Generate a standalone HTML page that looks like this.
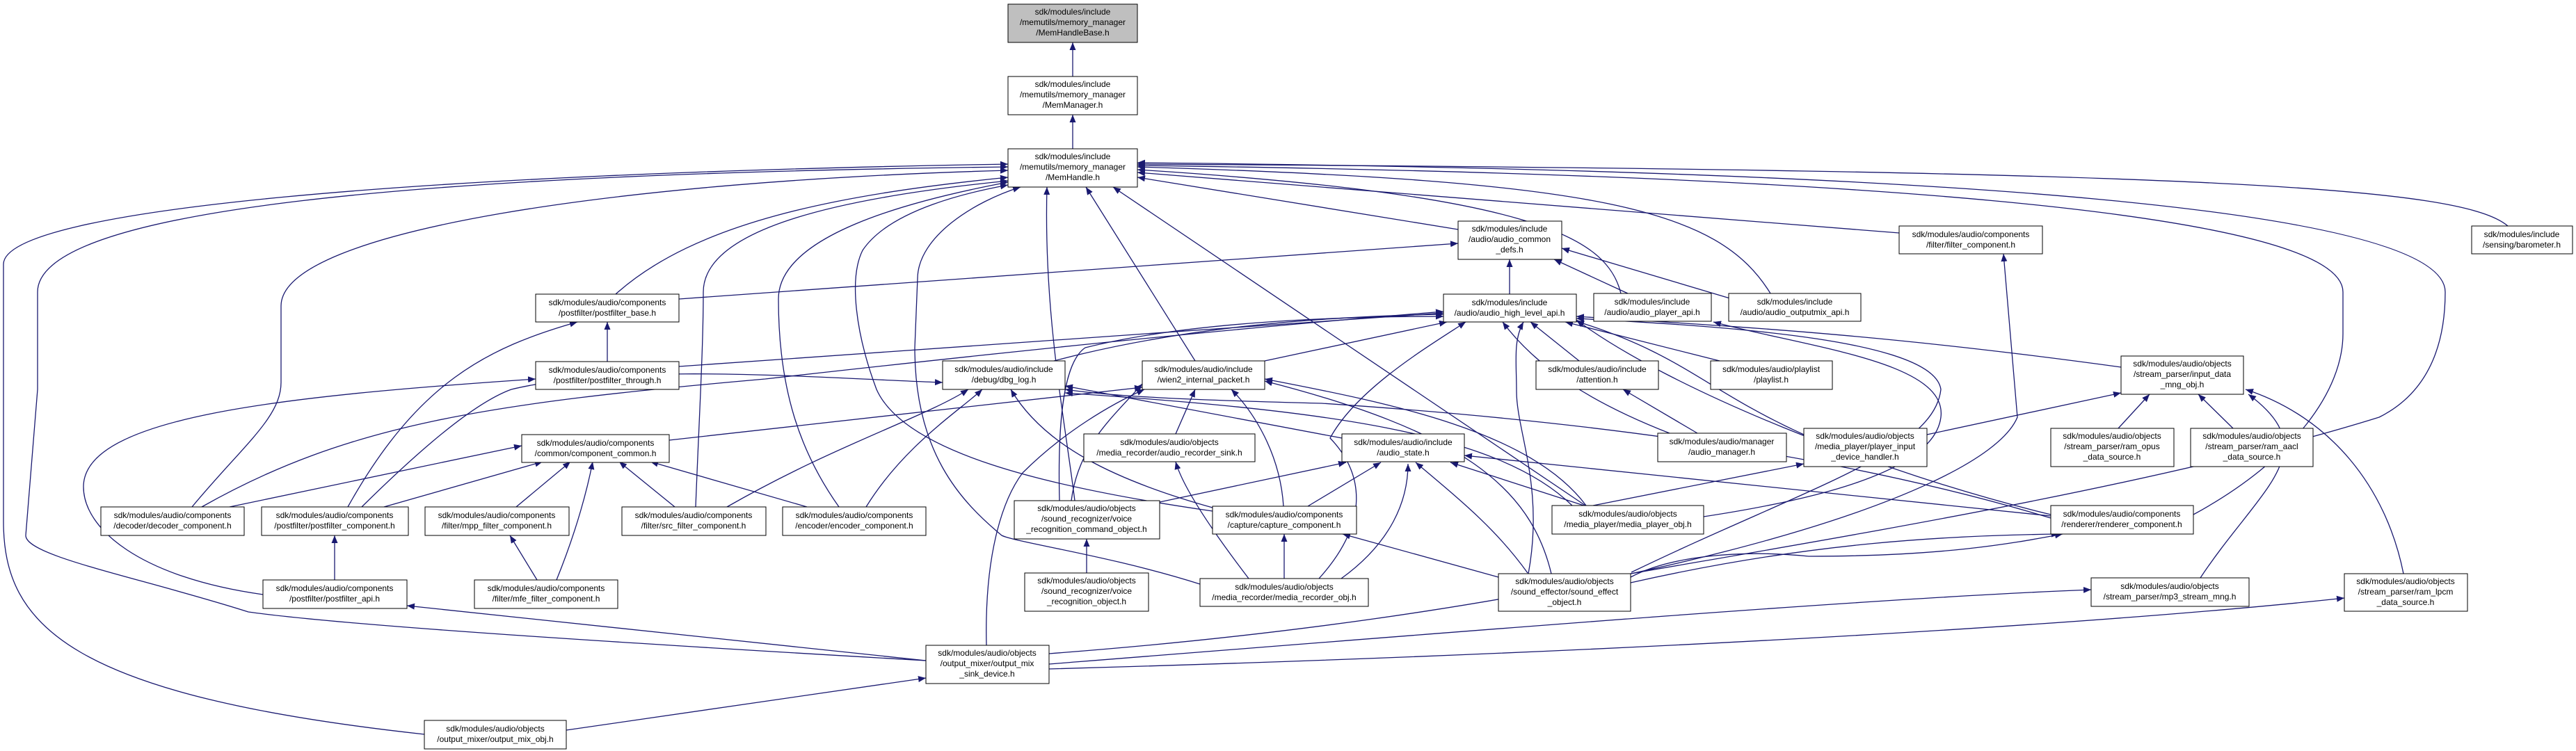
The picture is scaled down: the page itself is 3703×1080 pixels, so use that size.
<!DOCTYPE html>
<html><head><meta charset="utf-8"><style>
html,body{margin:0;padding:0;background:#fff;}
svg{display:block;}
text{font-family:"Liberation Sans",sans-serif;font-size:12px;fill:#000;}
.n{fill:#fff;stroke:#000;stroke-width:1;}
.e{fill:none;stroke:#191970;stroke-width:1.3;}
</style></head><body>
<svg width="3703" height="1080" viewBox="0 0 3703 1080" xmlns="http://www.w3.org/2000/svg">
<defs><marker id="a" markerUnits="userSpaceOnUse" markerWidth="12" markerHeight="9" refX="11" refY="4.5" orient="auto"><path d="M0,0 L11,4.5 L0,9 z" fill="#191970"/></marker></defs>
<g class="e" marker-end="url(#a)">
<path d="M1542,110 L1542,61"/>
<path d="M1542,214 L1542,165"/>
<path d="M610,1056 C100,1000 5,900 5,750 L5,380 C5,300 600,250 1449,236"/>
<path d="M1331,950 C900,925 500,900 357,880 C200,830 37,800 37,770 L54,560 L54,420 C54,300 600,250 1449,240"/>
<path d="M276,729 C350,640 404,600 404,550 L404,440 C404,330 900,260 1449,245"/>
<path d="M885,423 C1000,320 1200,280 1449,255"/>
<path d="M1000,729 C1005,600 1011,500 1011,420 C1011,330 1200,285 1449,260"/>
<path d="M1206,729 C1150,650 1119,560 1119,430 C1119,340 1300,290 1449,262"/>
<path d="M1743,735 C1500,700 1300,650 1260,560 C1230,480 1220,400 1240,360 C1280,300 1400,275 1449,266"/>
<path d="M1725,840 C1600,800 1460,780 1440,770 C1380,720 1315,650 1315,500 L1319,400 C1320,340 1400,290 1467,269"/>
<path d="M1545,720 C1530,600 1500,450 1505,269"/>
<path d="M1718,519 L1561,269"/>
<path d="M2279,727 L1600,269"/>
<path d="M2096,330 L1635,255"/>
<path d="M2730,335 L1635,248"/>
<path d="M3605,325 C3540,270 3200,245 1635,236"/>
<path d="M2330,422 C2310,340 2200,280 1635,244"/>
<path d="M2545,422 C2470,300 2300,260 1635,240"/>
<path d="M3153,740 C3300,660 3368,560 3368,480 L3368,420 C3368,300 2600,250 1635,238"/>
<path d="M2344,825 C2600,780 3100,700 3420,600 C3500,560 3515,480 3515,420 C3515,300 2800,245 1635,234"/>
<path d="M2170,423 L2170,373"/>
<path d="M2340,422 L2234,373"/>
<path d="M2490,430 L2245,357"/>
<path d="M976,430 L2096,350"/>
<path d="M976,527 L2075,450"/>
<path d="M1515,519 C1700,470 1900,455 2075,452"/>
<path d="M290,729 C500,610 700,580 1100,545 C1500,500 1800,470 2075,448"/>
<path d="M520,729 C600,650 680,580 735,560 C900,520 1200,545 1355,550"/>
<path d="M1818,519 L2080,463"/>
<path d="M2270,519 L2200,463"/>
<path d="M2472,519 L2250,463"/>
<path d="M2440,623 L2333,560"/>
<path d="M2400,623 C2290,580 2210,530 2160,463"/>
<path d="M2593,625 C2450,560 2420,510 2266,462"/>
<path d="M3049,528 C2700,480 2500,470 2266,455"/>
<path d="M2770,625 L3049,565"/>
<path d="M1896,832 C1970,750 1960,680 1912,630 C1950,560 2050,500 2107,463"/>
<path d="M2197,825 C2220,700 2180,620 2180,563 C2180,520 2175,490 2190,463"/>
<path d="M1523,720 C1520,600 1530,520 1560,500 C1700,465 1900,455 2075,455"/>
<path d="M2948,740 C2700,680 2400,560 2266,460"/>
<path d="M2449,743 C2600,720 2780,680 2790,600 C2800,520 2600,500 2463,463"/>
<path d="M2345,823 C2600,700 2780,650 2790,560 C2780,490 2500,470 2266,458"/>
<path d="M1045,729 C1200,640 1330,600 1392,560"/>
<path d="M1245,729 C1300,640 1380,590 1412,560"/>
<path d="M1743,730 C1600,690 1500,640 1453,560"/>
<path d="M1929,630 L1531,555"/>
<path d="M2948,745 C2600,640 2200,600 1900,580 C1700,575 1600,570 1531,560"/>
<path d="M2260,727 C2150,620 1900,590 1531,565"/>
<path d="M1690,624 L1718,560"/>
<path d="M962,633 L1642,557"/>
<path d="M1540,720 C1550,640 1600,600 1642,552"/>
<path d="M1418,928 C1415,800 1440,720 1470,680 C1530,620 1600,580 1645,560"/>
<path d="M1845,728 C1840,650 1800,590 1770,560"/>
<path d="M2230,825 C2200,700 2100,620 1818,548"/>
<path d="M2280,727 C2200,620 2000,580 1818,545"/>
<path d="M1667,722 L1935,665"/>
<path d="M1880,728 L1985,665"/>
<path d="M1928,832 C2000,780 2024,720 2024,667"/>
<path d="M2196,824 C2150,760 2100,720 2035,665"/>
<path d="M2280,728 L2085,665"/>
<path d="M2948,742 L2105,655"/>
<path d="M330,729 L750,641"/>
<path d="M552,729 L780,664"/>
<path d="M742,729 L820,664"/>
<path d="M800,834 C830,760 845,700 852,664"/>
<path d="M970,729 L890,664"/>
<path d="M1160,729 L935,664"/>
<path d="M772,834 L733,770"/>
<path d="M500,729 C600,550 700,500 830,463"/>
<path d="M481,834 L481,770"/>
<path d="M378,855 C200,830 120,760 120,700 C120,600 400,570 770,545"/>
<path d="M873,520 L873,463"/>
<path d="M1331,950 L585,871"/>
<path d="M814,1050 L1331,975"/>
<path d="M1795,832 C1740,760 1700,700 1690,664"/>
<path d="M1846,832 L1846,768"/>
<path d="M1562,824 L1562,775"/>
<path d="M2154,830 L1930,768"/>
<path d="M2290,727 L2593,667"/>
<path d="M3045,616 L3090,567"/>
<path d="M3210,616 L3160,567"/>
<path d="M3163,831 C3250,700 3344,650 3232,567"/>
<path d="M3455,825 C3430,700 3350,600 3228,560"/>
<path d="M1508,955 C2200,900 2700,860 3006,848"/>
<path d="M1508,962 C2300,940 3000,900 3370,860"/>
<path d="M2344,838 C2600,780 2800,770 2960,768"/>
<path d="M2344,830 C2400,800 2500,790 2600,800 C2800,800 2900,780 2965,768"/>
<path d="M1508,940 C2300,880 2850,720 2900,600 L2880,365"/>
</g>
<g>
<rect x="1449" y="6" width="186" height="55" fill="#bfbfbf" stroke="#000"/>
<text x="1542" y="21" text-anchor="middle">sdk/modules/include</text><text x="1542" y="36" text-anchor="middle">/memutils/memory_manager</text><text x="1542" y="51" text-anchor="middle">/MemHandleBase.h</text>
<rect class="n" x="1449" y="110" width="186" height="55"/>
<text x="1542" y="125" text-anchor="middle">sdk/modules/include</text><text x="1542" y="140" text-anchor="middle">/memutils/memory_manager</text><text x="1542" y="155" text-anchor="middle">/MemManager.h</text>
<rect class="n" x="1449" y="214" width="186" height="55"/>
<text x="1542" y="229" text-anchor="middle">sdk/modules/include</text><text x="1542" y="244" text-anchor="middle">/memutils/memory_manager</text><text x="1542" y="259" text-anchor="middle">/MemHandle.h</text>
<rect class="n" x="2096" y="318" width="149" height="55"/>
<text x="2170" y="333" text-anchor="middle">sdk/modules/include</text><text x="2170" y="348" text-anchor="middle">/audio/audio_common</text><text x="2170" y="363" text-anchor="middle">_defs.h</text>
<rect class="n" x="2075" y="423" width="191" height="40"/>
<text x="2170" y="439" text-anchor="middle">sdk/modules/include</text><text x="2170" y="454" text-anchor="middle">/audio/audio_high_level_api.h</text>
<rect class="n" x="2291" y="422" width="169" height="40"/>
<text x="2375" y="438" text-anchor="middle">sdk/modules/include</text><text x="2375" y="453" text-anchor="middle">/audio/audio_player_api.h</text>
<rect class="n" x="2485" y="422" width="190" height="40"/>
<text x="2580" y="438" text-anchor="middle">sdk/modules/include</text><text x="2580" y="453" text-anchor="middle">/audio/audio_outputmix_api.h</text>
<rect class="n" x="2730" y="325" width="206" height="40"/>
<text x="2833" y="341" text-anchor="middle">sdk/modules/audio/components</text><text x="2833" y="356" text-anchor="middle">/filter/filter_component.h</text>
<rect class="n" x="3553" y="325" width="145" height="40"/>
<text x="3625" y="341" text-anchor="middle">sdk/modules/include</text><text x="3625" y="356" text-anchor="middle">/sensing/barometer.h</text>
<rect class="n" x="770" y="423" width="206" height="40"/>
<text x="873" y="439" text-anchor="middle">sdk/modules/audio/components</text><text x="873" y="454" text-anchor="middle">/postfilter/postfilter_base.h</text>
<rect class="n" x="770" y="520" width="206" height="40"/>
<text x="873" y="536" text-anchor="middle">sdk/modules/audio/components</text><text x="873" y="551" text-anchor="middle">/postfilter/postfilter_through.h</text>
<rect class="n" x="1355" y="519" width="176" height="41"/>
<text x="1443" y="535" text-anchor="middle">sdk/modules/audio/include</text><text x="1443" y="550" text-anchor="middle">/debug/dbg_log.h</text>
<rect class="n" x="1642" y="519" width="176" height="41"/>
<text x="1730" y="535" text-anchor="middle">sdk/modules/audio/include</text><text x="1730" y="550" text-anchor="middle">/wien2_internal_packet.h</text>
<rect class="n" x="2208" y="519" width="176" height="41"/>
<text x="2296" y="535" text-anchor="middle">sdk/modules/audio/include</text><text x="2296" y="550" text-anchor="middle">/attention.h</text>
<rect class="n" x="2459" y="519" width="175" height="41"/>
<text x="2546" y="535" text-anchor="middle">sdk/modules/audio/playlist</text><text x="2546" y="550" text-anchor="middle">/playlist.h</text>
<rect class="n" x="3049" y="512" width="176" height="55"/>
<text x="3137" y="527" text-anchor="middle">sdk/modules/audio/objects</text><text x="3137" y="542" text-anchor="middle">/stream_parser/input_data</text><text x="3137" y="557" text-anchor="middle">_mng_obj.h</text>
<rect class="n" x="750" y="625" width="212" height="40"/>
<text x="856" y="641" text-anchor="middle">sdk/modules/audio/components</text><text x="856" y="656" text-anchor="middle">/common/component_common.h</text>
<rect class="n" x="1558" y="624" width="246" height="40"/>
<text x="1681" y="640" text-anchor="middle">sdk/modules/audio/objects</text><text x="1681" y="655" text-anchor="middle">/media_recorder/audio_recorder_sink.h</text>
<rect class="n" x="1929" y="624" width="176" height="40"/>
<text x="2017" y="640" text-anchor="middle">sdk/modules/audio/include</text><text x="2017" y="655" text-anchor="middle">/audio_state.h</text>
<rect class="n" x="2383" y="623" width="185" height="41"/>
<text x="2475" y="639" text-anchor="middle">sdk/modules/audio/manager</text><text x="2475" y="654" text-anchor="middle">/audio_manager.h</text>
<rect class="n" x="2593" y="616" width="177" height="55"/>
<text x="2681" y="631" text-anchor="middle">sdk/modules/audio/objects</text><text x="2681" y="646" text-anchor="middle">/media_player/player_input</text><text x="2681" y="661" text-anchor="middle">_device_handler.h</text>
<rect class="n" x="2948" y="616" width="177" height="55"/>
<text x="3036" y="631" text-anchor="middle">sdk/modules/audio/objects</text><text x="3036" y="646" text-anchor="middle">/stream_parser/ram_opus</text><text x="3036" y="661" text-anchor="middle">_data_source.h</text>
<rect class="n" x="3149" y="616" width="176" height="55"/>
<text x="3237" y="631" text-anchor="middle">sdk/modules/audio/objects</text><text x="3237" y="646" text-anchor="middle">/stream_parser/ram_aacl</text><text x="3237" y="661" text-anchor="middle">_data_source.h</text>
<rect class="n" x="145" y="729" width="206" height="41"/>
<text x="248" y="745" text-anchor="middle">sdk/modules/audio/components</text><text x="248" y="760" text-anchor="middle">/decoder/decoder_component.h</text>
<rect class="n" x="376" y="729" width="211" height="41"/>
<text x="481" y="745" text-anchor="middle">sdk/modules/audio/components</text><text x="481" y="760" text-anchor="middle">/postfilter/postfilter_component.h</text>
<rect class="n" x="611" y="729" width="207" height="41"/>
<text x="714" y="745" text-anchor="middle">sdk/modules/audio/components</text><text x="714" y="760" text-anchor="middle">/filter/mpp_filter_component.h</text>
<rect class="n" x="894" y="729" width="207" height="41"/>
<text x="997" y="745" text-anchor="middle">sdk/modules/audio/components</text><text x="997" y="760" text-anchor="middle">/filter/src_filter_component.h</text>
<rect class="n" x="1125" y="729" width="206" height="41"/>
<text x="1228" y="745" text-anchor="middle">sdk/modules/audio/components</text><text x="1228" y="760" text-anchor="middle">/encoder/encoder_component.h</text>
<rect class="n" x="1458" y="720" width="209" height="55"/>
<text x="1562" y="735" text-anchor="middle">sdk/modules/audio/objects</text><text x="1562" y="750" text-anchor="middle">/sound_recognizer/voice</text><text x="1562" y="765" text-anchor="middle">_recognition_command_object.h</text>
<rect class="n" x="1743" y="728" width="207" height="40"/>
<text x="1846" y="744" text-anchor="middle">sdk/modules/audio/components</text><text x="1846" y="759" text-anchor="middle">/capture/capture_component.h</text>
<rect class="n" x="2231" y="727" width="218" height="41"/>
<text x="2340" y="743" text-anchor="middle">sdk/modules/audio/objects</text><text x="2340" y="758" text-anchor="middle">/media_player/media_player_obj.h</text>
<rect class="n" x="2948" y="727" width="205" height="41"/>
<text x="3050" y="743" text-anchor="middle">sdk/modules/audio/components</text><text x="3050" y="758" text-anchor="middle">/renderer/renderer_component.h</text>
<rect class="n" x="378" y="834" width="207" height="41"/>
<text x="481" y="850" text-anchor="middle">sdk/modules/audio/components</text><text x="481" y="865" text-anchor="middle">/postfilter/postfilter_api.h</text>
<rect class="n" x="682" y="834" width="206" height="41"/>
<text x="785" y="850" text-anchor="middle">sdk/modules/audio/components</text><text x="785" y="865" text-anchor="middle">/filter/mfe_filter_component.h</text>
<rect class="n" x="1473" y="824" width="178" height="55"/>
<text x="1562" y="839" text-anchor="middle">sdk/modules/audio/objects</text><text x="1562" y="854" text-anchor="middle">/sound_recognizer/voice</text><text x="1562" y="869" text-anchor="middle">_recognition_object.h</text>
<rect class="n" x="1725" y="832" width="242" height="40"/>
<text x="1846" y="848" text-anchor="middle">sdk/modules/audio/objects</text><text x="1846" y="863" text-anchor="middle">/media_recorder/media_recorder_obj.h</text>
<rect class="n" x="2154" y="825" width="190" height="54"/>
<text x="2249" y="840" text-anchor="middle">sdk/modules/audio/objects</text><text x="2249" y="855" text-anchor="middle">/sound_effector/sound_effect</text><text x="2249" y="870" text-anchor="middle">_object.h</text>
<rect class="n" x="3006" y="831" width="227" height="41"/>
<text x="3119" y="847" text-anchor="middle">sdk/modules/audio/objects</text><text x="3119" y="862" text-anchor="middle">/stream_parser/mp3_stream_mng.h</text>
<rect class="n" x="3370" y="825" width="177" height="54"/>
<text x="3458" y="840" text-anchor="middle">sdk/modules/audio/objects</text><text x="3458" y="855" text-anchor="middle">/stream_parser/ram_lpcm</text><text x="3458" y="870" text-anchor="middle">_data_source.h</text>
<rect class="n" x="1331" y="928" width="177" height="55"/>
<text x="1419" y="943" text-anchor="middle">sdk/modules/audio/objects</text><text x="1419" y="958" text-anchor="middle">/output_mixer/output_mix</text><text x="1419" y="973" text-anchor="middle">_sink_device.h</text>
<rect class="n" x="610" y="1036" width="204" height="41"/>
<text x="712" y="1052" text-anchor="middle">sdk/modules/audio/objects</text><text x="712" y="1067" text-anchor="middle">/output_mixer/output_mix_obj.h</text>
</g>
</svg>
</body></html>
